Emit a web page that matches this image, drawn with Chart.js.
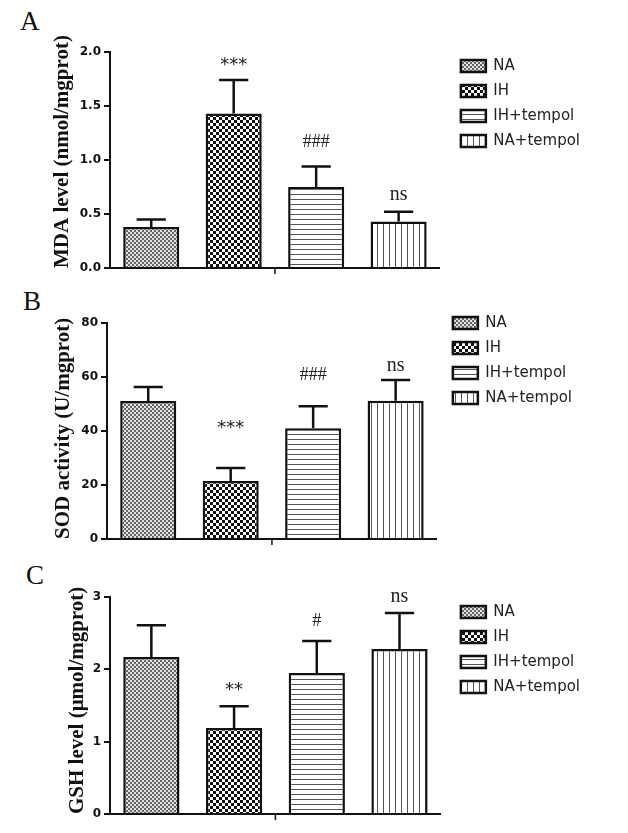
<!DOCTYPE html>
<html>
<head>
<meta charset="utf-8">
<script src="https://cdn.jsdelivr.net/npm/chart.js@4.4.1/dist/chart.umd.min.js"></script>
<style>
  body { margin: 0; background: #fff; width: 628px; height: 833px; position: relative; overflow: hidden; }
  canvas { position: absolute; left: 0; }
  .letter { position: absolute; font-family: "Liberation Serif"; font-size: 27px; line-height: 27px; color: #111; }
</style>
</head>
<body>
<div class="letter" style="left:20px;top:8px">A</div>
<div class="letter" style="left:23px;top:288px">B</div>
<div class="letter" style="left:26px;top:562px">C</div>
<canvas id="chartA" width="628" height="280" style="top:0"></canvas>
<canvas id="chartB" width="628" height="271" style="top:280px"></canvas>
<canvas id="chartC" width="628" height="266" style="top:560px"></canvas>
<script>
const groups = ['NA', 'IH', 'IH+tempol', 'NA+tempol'];

// A: MDA
const mdaMean = [0.38, 1.43, 0.75, 0.43];
const mdaSD = [0.07, 0.31, 0.19, 0.09];
const mdaNotes = ['', '***', '###', 'ns'];
const mdaTicks = ['0.0', '0.5', '1.0', '1.5', '2.0'];

// B: SOD
const sodMean = [51.1, 21.5, 41.0, 51.2];
const sodSD = [5.2, 4.8, 8.2, 7.7];
const sodNotes = ['', '***', '###', 'ns'];
const sodTicks = ['0', '20', '40', '60', '80'];

// C: GSH
const gshMean = [2.17, 1.19, 1.95, 2.28];
const gshSD = [0.44, 0.30, 0.44, 0.50];
const gshNotes = ['', '**', '#', 'ns'];
const gshTicks = ['0', '1', '2', '3'];

function makePattern(kind) {
  const c = document.createElement('canvas');
  const g = c.getContext('2d');
  if (kind === 'fine') {
    c.width = 4; c.height = 4;
    g.fillStyle = '#e2e2e2'; g.fillRect(0, 0, 4, 4);
    g.fillStyle = '#666'; g.fillRect(0, 0, 2, 2); g.fillRect(2, 2, 2, 2);
  } else if (kind === 'check') {
    c.width = 6; c.height = 6;
    g.fillStyle = '#fff'; g.fillRect(0, 0, 6, 6);
    g.fillStyle = '#111'; g.fillRect(0, 0, 3, 3); g.fillRect(3, 3, 3, 3);
  } else if (kind === 'hlines') {
    c.width = 4; c.height = 5;
    g.fillStyle = '#fff'; g.fillRect(0, 0, 4, 5);
    g.fillStyle = '#555'; g.fillRect(0, 4, 4, 1);
  } else {
    c.width = 6; c.height = 4;
    g.fillStyle = '#fff'; g.fillRect(0, 0, 6, 4);
    g.fillStyle = '#555'; g.fillRect(5, 0, 1, 4);
  }
  return g.createPattern(c, 'repeat');
}
const fills = [makePattern('fine'), makePattern('check'), makePattern('hlines'), makePattern('vlines')];

function noteFont(t) {
  if (t[0] === '*') return '18px "DejaVu Sans"';
  if (t[0] === '#') return '18px "Liberation Serif"';
  return '20px "Liberation Serif"';
}

function panel(id, means, sds, notes, ticks, yMax, yStep, yTitle, lay) {
  const datasets = groups.map((g, i) => ({
    label: g,
    data: means.map((v, j) => (j === i ? v : null)),
    backgroundColor: fills[i],
    borderColor: '#111',
    borderWidth: 2.5,
    grouped: false,
    barPercentage: 0.68,
    categoryPercentage: 1
  }));

  // error bars (mean + SD, upper only), significance marks, centre tick on x axis
  const marks = {
    id: 'marks',
    afterLayout(chart) {
      // legend sits a little further from the plot than Chart.js puts it
      chart.legend.left += lay.legendShift;
      chart.legend.right += lay.legendShift;
    },
    afterDatasetsDraw(chart) {
      const ctx = chart.ctx, ys = chart.scales.y, xs = chart.scales.x;
      ctx.save();
      ctx.strokeStyle = '#111';
      ctx.lineWidth = 2.5;
      groups.forEach((g, i) => {
        const bar = chart.getDatasetMeta(i).data[i];
        const top = ys.getPixelForValue(means[i] + sds[i]);
        const half = bar.width * 0.26;
        ctx.beginPath();
        ctx.moveTo(bar.x, bar.y); ctx.lineTo(bar.x, top);
        ctx.moveTo(bar.x - half, top); ctx.lineTo(bar.x + half, top);
        ctx.stroke();
        if (notes[i]) {
          ctx.font = noteFont(notes[i]);
          ctx.fillStyle = '#222';
          ctx.textAlign = 'center';
          ctx.textBaseline = 'alphabetic';
          ctx.fillText(notes[i], bar.x, top - lay.gaps[i]);
        }
      });
      const mid = (xs.getPixelForValue(1) + xs.getPixelForValue(2)) / 2;
      ctx.lineWidth = 1.5;
      ctx.beginPath(); ctx.moveTo(mid, xs.top); ctx.lineTo(mid, xs.top + 6); ctx.stroke();
      ctx.restore();
    }
  };

  return new Chart(document.getElementById(id), {
    type: 'bar',
    data: { labels: groups, datasets },
    options: {
      responsive: false,
      animation: false,
      layout: { padding: { top: lay.padTop, left: 0, right: lay.padRight, bottom: 0 } },
      plugins: {
        legend: {
          position: 'right',
          align: 'start',
          labels: { boxWidth: 25, boxHeight: 12, padding: 10, color: '#222', font: { family: 'DejaVu Sans', size: 15 } }
        },
        tooltip: { enabled: false }
      },
      scales: {
        x: {
          ticks: { display: false },
          grid: { display: false },
          border: { color: '#111', width: 2 },
          afterFit: s => { s.height = 12; }
        },
        y: {
          min: 0, max: yMax,
          ticks: {
            stepSize: yStep, padding: 3, color: '#111',
            font: { family: 'DejaVu Sans', weight: 'bold', size: 12 },
            callback: (v, i) => ticks[i]
          },
          grid: { drawOnChartArea: false, drawTicks: true, tickLength: 6, color: '#111', lineWidth: 2 },
          border: { color: '#111', width: 2 },
          title: {
            display: true, text: yTitle, align: 'start', color: '#111',
            font: { family: 'Liberation Serif', weight: 'bold', size: 21 },
            padding: { top: lay.titleIn, bottom: 4 }
          },
          afterFit: s => { s.width = lay.axisW; }
        },
        topGap: {
          type: 'linear', axis: 'x', position: 'top', display: true,
          grid: { display: false }, border: { display: false }, ticks: { display: false },
          afterFit: s => { s.height = lay.topGap; }
        }
      }
    },
    plugins: [marks]
  });
}

panel('chartA', mdaMean, mdaSD, mdaNotes, mdaTicks, 2, 0.5, 'MDA level (nmol/mgprot)',
  { padTop: 48.5, topGap: 3.5, axisW: 110, titleIn: 50, padRight: 49, legendShift: 11, gaps: [0, 10, 19, 12] });
panel('chartB', sodMean, sodSD, sodNotes, sodTicks, 80, 20, 'SOD activity (U/mgprot)',
  { padTop: 25.5, topGap: 17.5, axisW: 107, titleIn: 51, padRight: 52, legendShift: 6, gaps: [0, 35, 26, 9] });
panel('chartC', gshMean, gshSD, gshNotes, gshTicks, 3, 1, 'GSH level (μmol/mgprot)',
  { padTop: 34.5, topGap: 2.5, axisW: 110, titleIn: 65, padRight: 48, legendShift: 10, gaps: [0, 11, 15, 11] });
</script>
</body>
</html>
